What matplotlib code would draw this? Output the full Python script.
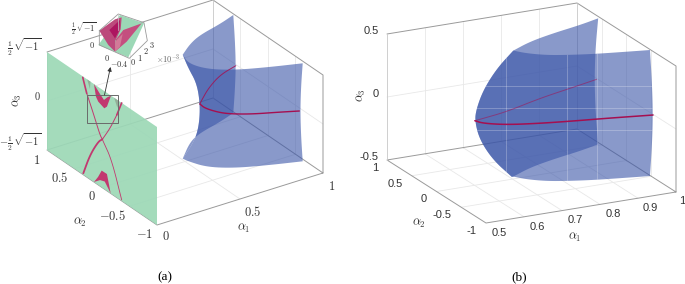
#!/usr/bin/env python3
# -*- coding: utf-8 -*-
"""
Solution sets in (alpha1, alpha2, alpha3), two views.
"""
import numpy as np
import matplotlib
matplotlib.use('Agg')
import matplotlib.pyplot as plt
from matplotlib.patches import Polygon, Rectangle

plt.rcParams['mathtext.fontset'] = 'cm'

# panel (a), surface
a_ridge_a1 = [0.526, 0.56, 0.61, 0.63, 0.626, 0.60, 0.526]
a_ridge_a2 = [0.12] * 7
a_ridge_a3 = [0.53, 0.375, 0.194, -0.02, -0.224, -0.38, -0.53]
a_front_a1 = [0.526, 0.515, 0.556, 0.66, 0.814, 0.987]
a_front_a2 = [0.12, -0.016, -0.224, -0.396, -0.538, -0.67]
a_front_a3 = [0.53, 0.5, 0.5, 0.5, 0.5, 0.5]
a_back_a1 = [0.526, 0.639, 0.734, 0.884, 0.993]
a_back_a2 = [0.12, 0.328, 0.434, 0.522, 0.61]
a_back_a3 = [0.53, 0.5, 0.5, 0.5, 0.5]
a_end_a3 = [0.5, 0.25, 0.0, -0.25, -0.5]
a_end_front_a2 = [-0.67, -0.64, -0.627, -0.64, -0.67]
a_end_back_a2 = [0.61, 0.58, 0.564, 0.58, 0.61]
a_curve_back_a1 = [0.993, 0.871, 0.743, 0.645, 0.613]
a_curve_back_a2 = [0.564, 0.484, 0.308, 0.132, 0.07]
a_curve_front_a1 = [0.613, 0.608, 0.643, 0.69, 0.773, 0.88, 0.981]
a_curve_front_a2 = [0.07, -0.038, -0.204, -0.304, -0.418, -0.522, -0.627]

# panel (a), shapes on the alpha1=0 wall
wall_left_up_a2 = [0.35, 0.278, 0.158, 0.036, -0.006]
wall_left_up_a3 = [0.49, 0.355, 0.197, 0.022, -0.006]
wall_right_up_a2 = [-0.358, -0.268, -0.146, -0.02, -0.006]
wall_right_up_a3 = [0.5, 0.342, 0.16, 0.01, -0.006]
wall_left_low_a2 = [-0.006, 0.068, 0.218, 0.34]
wall_left_low_a3 = [-0.006, -0.058, -0.252, -0.485]
wall_right_low_a2 = [-0.006, -0.024, -0.176, -0.358]
wall_right_low_a3 = [-0.006, -0.023, -0.152, -0.49]
blob_up_a2 = [0.146, 0.036, -0.036, -0.096, -0.164, -0.09, -0.042, 0.068, 0.11]
blob_up_a3 = [0.5, 0.44, 0.407, 0.457, 0.5, 0.36, 0.324, 0.35, 0.385]
blob_low_a2 = [0.006, 0.072, 0.146, 0.036, -0.05, -0.158, -0.09]
blob_low_a3 = [-0.33, -0.42, -0.5, -0.438, -0.42, -0.5, -0.328]
spot1_a2 = [0.27, 0.21, 0.22]
spot1_a3 = [0.5, 0.5, 0.42]
spot2_a2 = [-0.22, -0.31, -0.28]
spot2_a3 = [0.5, 0.5, 0.42]

# panel (b)
b_ridge_a1 = [0.71, 0.667, 0.631, 0.612, 0.609, 0.622, 0.657, 0.706]
b_ridge_a2 = [0.06] * 8
b_ridge_a3 = [0.5, 0.38, 0.226, 0.077, -0.015, -0.167, -0.343, -0.5]
b_front_a1 = [0.71, 0.729, 0.765, 0.807, 0.866, 0.944, 0.998]
b_front_a2 = [0.06, -0.064, -0.19, -0.27, -0.356, -0.436, -0.489]
b_front_a3 = [0.5] * 7
b_back_a1 = [0.71, 0.774, 0.85, 0.934, 0.994]
b_back_a2 = [0.06, 0.216, 0.332, 0.432, 0.526]
b_back_a3 = [0.5] * 5
b_end_a3 = [0.5, 0.25, 0.0, -0.25, -0.5]
b_end_front_a2 = [-0.489, -0.53, -0.55, -0.53, -0.489]
b_end_back_a2 = [0.526, 0.58, 0.6, 0.58, 0.526]
b_curve_back_a1 = [0.997, 0.922, 0.816, 0.702, 0.632, 0.606]
b_curve_back_a2 = [0.582, 0.478, 0.336, 0.136, 0.064, 0.038]
b_curve_front_a1 = [0.606, 0.615, 0.66, 0.734, 0.811, 0.89, 0.998]
b_curve_front_a2 = [0.038, -0.062, -0.194, -0.296, -0.374, -0.444, -0.552]

# tick labels
a_a1_ticks = ['$0$', '$0.5$', '$1$']
a_a2_ticks = ['$1$', '$0.5$', '$0$', '$-0.5$', '$-1$']
a_a3_ticks = [r'$\frac{1}{2}\,\sqrt{-1}$', '$0$', r'$-\frac{1}{2}\,\sqrt{-1}$']
b_a1_ticks = ['0.5', '0.6', '0.7', '0.8', '0.9', '1']
b_a2_ticks = ['1', '0.5', '0', '-0.5', '-1']
b_a3_ticks = ['0.5', '0', '-0.5']

GREEN = '#9CD8B6'
BLUE = '#3A55A8'
PINK = '#C2386F'
RED = '#A50F50'
BOX = '#9a9a9a'
GRID = '#e8e8e8'


def project(view, a1, a2, a3):
    """view = pixel origin at (a1 low, a2=1, a3 top) and pixel vectors per full range of each axis"""
    (ox, oy), (ux, uy), (vx, vy), hz, lo = view
    u = (np.asarray(a1, float) - lo) / (1 - lo)
    v = (1 - np.asarray(a2, float)) / 2
    w = 0.5 - np.asarray(a3, float)
    return ox + ux * u + vx * v, oy + uy * u + vy * v + hz * w


def smooth(x, y, n=3):
    """corner cutting so the drawn outline does not look polygonal"""
    x, y = np.asarray(x, float), np.asarray(y, float)
    for _ in range(n):
        qx = .75 * x[:-1] + .25 * x[1:]
        qy = .75 * y[:-1] + .25 * y[1:]
        rx = .25 * x[:-1] + .75 * x[1:]
        ry = .25 * y[:-1] + .75 * y[1:]
        x = np.r_[x[0], np.column_stack([qx, rx]).ravel(), x[-1]]
        y = np.r_[y[0], np.column_stack([qy, ry]).ravel(), y[-1]]
    return x, y


def line3(ax, view, a1, a2, a3, curved=False, **kw):
    x, y = project(view, a1, a2, a3)
    if curved:
        x, y = smooth(x, y)
    ax.plot(x, y, solid_capstyle='round', **kw)


def poly3(ax, view, a1, a2, a3, **kw):
    x, y = project(view, a1, a2, a3)
    p = Polygon(np.column_stack([x, y]), closed=True, linewidth=0, **kw)
    ax.add_patch(p)
    return p


def grid_box(ax, view, a1_grid, a2_grid, a3_grid, lo):
    for t in a1_grid:
        line3(ax, view, [t, t], [1, -1], [-.5, -.5], color=GRID, lw=.6, zorder=1)
        line3(ax, view, [t, t], [1, 1], [-.5, .5], color=GRID, lw=.6, zorder=1)
    for t in a2_grid:
        line3(ax, view, [lo, 1], [t, t], [-.5, -.5], color=GRID, lw=.6, zorder=1)
        line3(ax, view, [1, 1], [t, t], [-.5, .5], color=GRID, lw=.6, zorder=1)
    for t in a3_grid:
        line3(ax, view, [lo, 1], [1, 1], [t, t], color=GRID, lw=.6, zorder=1)
        line3(ax, view, [1, 1], [1, -1], [t, t], color=GRID, lw=.6, zorder=1)
    # box edges
    line3(ax, view, [lo, 1, 1, 1, lo, lo, 1, 1], [1, 1, -1, -1, -1, 1, 1, -1],
          [.5, .5, .5, -.5, -.5, -.5, -.5, -.5], color=BOX, lw=.7, zorder=2)
    line3(ax, view, [1, 1], [1, 1], [.5, -.5], color='#c8c8c8', lw=.6, zorder=2)
    line3(ax, view, [lo, lo], [1, 1], [.5, -.5], color='#c8c8c8', lw=.6, zorder=2)


def surface(ax, view, ridge, front, back, end_a3, end_front, end_back):
    ridge_xy = smooth(*project(view, ridge[0][::-1], ridge[1][::-1], ridge[2][::-1]))
    end = np.ones(len(end_a3))
    for edge, end_a2 in ((back, end_back), (front, end_front)):
        e1, e2, e3 = np.array(edge[0]), np.array(edge[1]), np.array(edge[2])
        top = smooth(*project(view, e1, e2, e3))
        side = smooth(*project(view, end * e1[-1], end_a2, end_a3))
        low = smooth(*project(view, e1[::-1], e2[::-1], -e3[::-1]))
        x = np.r_[top[0], side[0], low[0], ridge_xy[0]]
        y = np.r_[top[1], side[1], low[1], ridge_xy[1]]
        p = Polygon(np.column_stack([x, y]), closed=True, linewidth=0,
                    facecolor=BLUE, alpha=.6, zorder=4)
        ax.add_patch(p)
    return p


fig = plt.figure(figsize=(6.85, 2.84), dpi=100)
ax = fig.add_axes([0, 0, 1, 1])
ax.set_xlim(0, 685)
ax.set_ylim(284, 0)
ax.axis('off')

# -------- panel (a)
view_a = ((47, 52), (166, -52), (110, 75), 98, 0.0)
grid_box(ax, view_a, [0.5], [0.5, 0, -0.5], [0], 0.0)

poly3(ax, view_a, [0, 0, 0, 0], [1, -1, -1, 1], [.5, .5, -.5, -.5],
      facecolor=GREEN, alpha=.92, zorder=3)
wall = lambda a2, a3: ([0] * len(a2), a2, a3)
line3(ax, view_a, *wall(wall_left_up_a2[:2], wall_left_up_a3[:2]), color=PINK, lw=1.2, zorder=3.5)
line3(ax, view_a, *wall(wall_left_up_a2[1:], wall_left_up_a3[1:]), curved=True, color=PINK, lw=.7, zorder=3.5)
line3(ax, view_a, *wall(wall_right_up_a2[:2], wall_right_up_a3[:2]), color=PINK, lw=1.2, zorder=3.5)
line3(ax, view_a, *wall(wall_right_up_a2[1:], wall_right_up_a3[1:]), curved=True, color=PINK, lw=.7, zorder=3.5)
line3(ax, view_a, *wall(wall_left_low_a2, wall_left_low_a3), curved=True, color=PINK, lw=1.3, zorder=3.5)
line3(ax, view_a, *wall(wall_right_low_a2, wall_right_low_a3), curved=True, color=PINK, lw=.6, zorder=3.5)
poly3(ax, view_a, *wall(blob_up_a2, blob_up_a3), facecolor=PINK, zorder=3.5)
poly3(ax, view_a, *wall(blob_low_a2, blob_low_a3), facecolor=PINK, zorder=3.5)
poly3(ax, view_a, *wall(spot1_a2, spot1_a3), facecolor='#93AE98', zorder=3.5)
poly3(ax, view_a, *wall(spot2_a2, spot2_a3), facecolor='#93AE98', zorder=3.5)

surface(ax, view_a, (a_ridge_a1, a_ridge_a2, a_ridge_a3),
        (a_front_a1, a_front_a2, a_front_a3), (a_back_a1, a_back_a2, a_back_a3),
        a_end_a3, a_end_front_a2, a_end_back_a2)
line3(ax, view_a, a_curve_back_a1, a_curve_back_a2, [0] * 5, curved=True, color=RED, lw=.7, alpha=.85, zorder=5)
line3(ax, view_a, a_curve_front_a1, a_curve_front_a2, [0] * 7, curved=True, color=RED, lw=1.0, zorder=5)

# zoom box and arrow
ax.add_patch(Rectangle((87.5, 95), 31, 28, fill=False, edgecolor='#6a6a6a', lw=.7, zorder=6))
ax.annotate('', xy=(110.5, 67), xytext=(104.5, 95), zorder=7,
            arrowprops=dict(arrowstyle='-|>', color='#333333', lw=.6, mutation_scale=6, shrinkA=0, shrinkB=0))

serif_kw = dict(ha='center', va='center', color='#333333', fontsize=9)
for s, (x, y) in zip(a_a1_ticks, [(166, 237), (253, 212), (332, 187)]):
    ax.text(x, y, s, **serif_kw)
for s, (x, y) in zip(a_a2_ticks, [(37, 160), (60, 178), (92, 197), (113, 216), (145, 235)]):
    ax.text(x, y, s, **serif_kw)
for s, y in zip(a_a3_ticks, [47, 96, 142]):
    ax.text(41, y, s, ha='right', va='center', color='#333333', fontsize=7.5)
ax.text(244, 228, r'$\alpha_1$', **serif_kw)
ax.text(80, 222, r'$\alpha_2$', **serif_kw)
ax.text(17, 100, r'$\alpha_3$', rotation=90, **serif_kw)
ax.text(168, 59, r'$\times 10^{-3}$', ha='center', va='center', color='#666666', fontsize=6)
ax.text(165, 277, '(a)', ha='center', va='center', family='Liberation Serif', fontsize=9.5)

# inset, coordinates of its own
ins = fig.add_axes([70 / 685, 1 - 80 / 284, 90 / 685, 70 / 284], zorder=10)
ins.set_xlim(0, 270)
ins.set_ylim(210, 0)
ins.axis('off')
ins_green_x = [85, 175, 222, 150]
ins_green_y = [105, 142, 40, 15]
ins_left_x = [88, 135, 155, 152, 136, 135, 115]
ins_left_y = [62, 28, 22, 58, 92, 125, 105]
ins_right_x = [135, 170, 215, 160, 138]
ins_right_y = [125, 95, 40, 60, 88]
ins_dark_x = [118, 150, 148, 135]
ins_dark_y = [60, 30, 60, 85]
ins_light_x = [136, 135, 150, 158, 142]
ins_light_y = [95, 125, 110, 72, 88]
ins.plot([88, 145, 222, 232, 178, 88, 88], [62, 12, 38, 92, 145, 105, 62], color=BOX, lw=.6)
ins.plot([145, 145], [12, 60], color='#c8c8c8', lw=.5)
ins.fill(ins_green_x, ins_green_y, color=GREEN, lw=0)
ins.fill(ins_left_x, ins_left_y, color='#BC4A7C', lw=0)
ins.fill(ins_right_x, ins_right_y, color='#C44F7F', lw=0)
ins.fill(ins_light_x, ins_light_y, color='#D27A98', lw=0)
ins.fill(ins_dark_x, ins_dark_y, color='#AD1560', lw=0)
ins_kw = dict(ha='center', va='center', color='#333333', fontsize=6)
for s, x, y in zip(['$0$', '$0$', '$-0.4$', '$0$', '$1$', '$2$', '$3$'],
                   [65, 112, 148, 190, 210, 228, 247], [105, 145, 163, 157, 143, 122, 105]):
    ins.text(x, y, s, **ins_kw)
ins.text(80, 55, r'$\frac{1}{2}\,\sqrt{-1}$', ha='right', va='center', color='#333333', fontsize=6)

# -------- panel (b)
view_b = ((387, 34), (190, -31), (99, 63), 126, 0.5)
grid_box(ax, view_b, [0.6, 0.7, 0.8, 0.9], [0.5, 0, -0.5], [0], 0.5)
front_b = surface(ax, view_b, (b_ridge_a1, b_ridge_a2, b_ridge_a3),
                  (b_front_a1, b_front_a2, b_front_a3), (b_back_a1, b_back_a2, b_back_a3),
                  b_end_a3, b_end_front_a2, b_end_back_a2)
line3(ax, view_b, b_curve_back_a1, b_curve_back_a2, [0] * 6, curved=True, color=RED, lw=.7, alpha=.55, zorder=5)
line3(ax, view_b, b_curve_front_a1, b_curve_front_a2, [0] * 7, curved=True, color=RED, lw=1.1, zorder=5)

# pale seams on the surface
for x in [505.7, 566.7, 597.3]:
    ln, = ax.plot([x, x], [0, 284], color='white', lw=.7, alpha=.25, zorder=4.5)
    ln.set_clip_path(front_b)
for y in [85.7, 108.3, 130]:
    ln, = ax.plot([340, 685], [y, y], color='white', lw=.7, alpha=.25, zorder=4.5)
    ln.set_clip_path(front_b)

sans_kw = dict(ha='center', va='center', color='#333333', fontsize=8, family='Liberation Sans')
for s, (x, y) in zip(b_a1_ticks, [(499, 233), (537, 227), (575, 220), (613, 214), (650, 208), (682, 201)]):
    ax.text(x, y, s, **sans_kw)
for s, (x, y) in zip(b_a2_ticks, [(375, 168), (395, 184), (424, 199), (442, 215), (472, 231)]):
    ax.text(x, y, s, **sans_kw)
for s, y in zip(b_a3_ticks, [31, 94, 157]):
    ax.text(379, y, s, ha='right', va='center', color='#333333', fontsize=8, family='Liberation Sans')
ax.text(575, 237, r'$\alpha_1$', **serif_kw)
ax.text(419, 223, r'$\alpha_2$', **serif_kw)
ax.text(361, 95, r'$\alpha_3$', rotation=90, **serif_kw)
ax.text(519, 277, '(b)', ha='center', va='center', family='Liberation Serif', fontsize=9.5)

fig.savefig('out.png', dpi=100)
